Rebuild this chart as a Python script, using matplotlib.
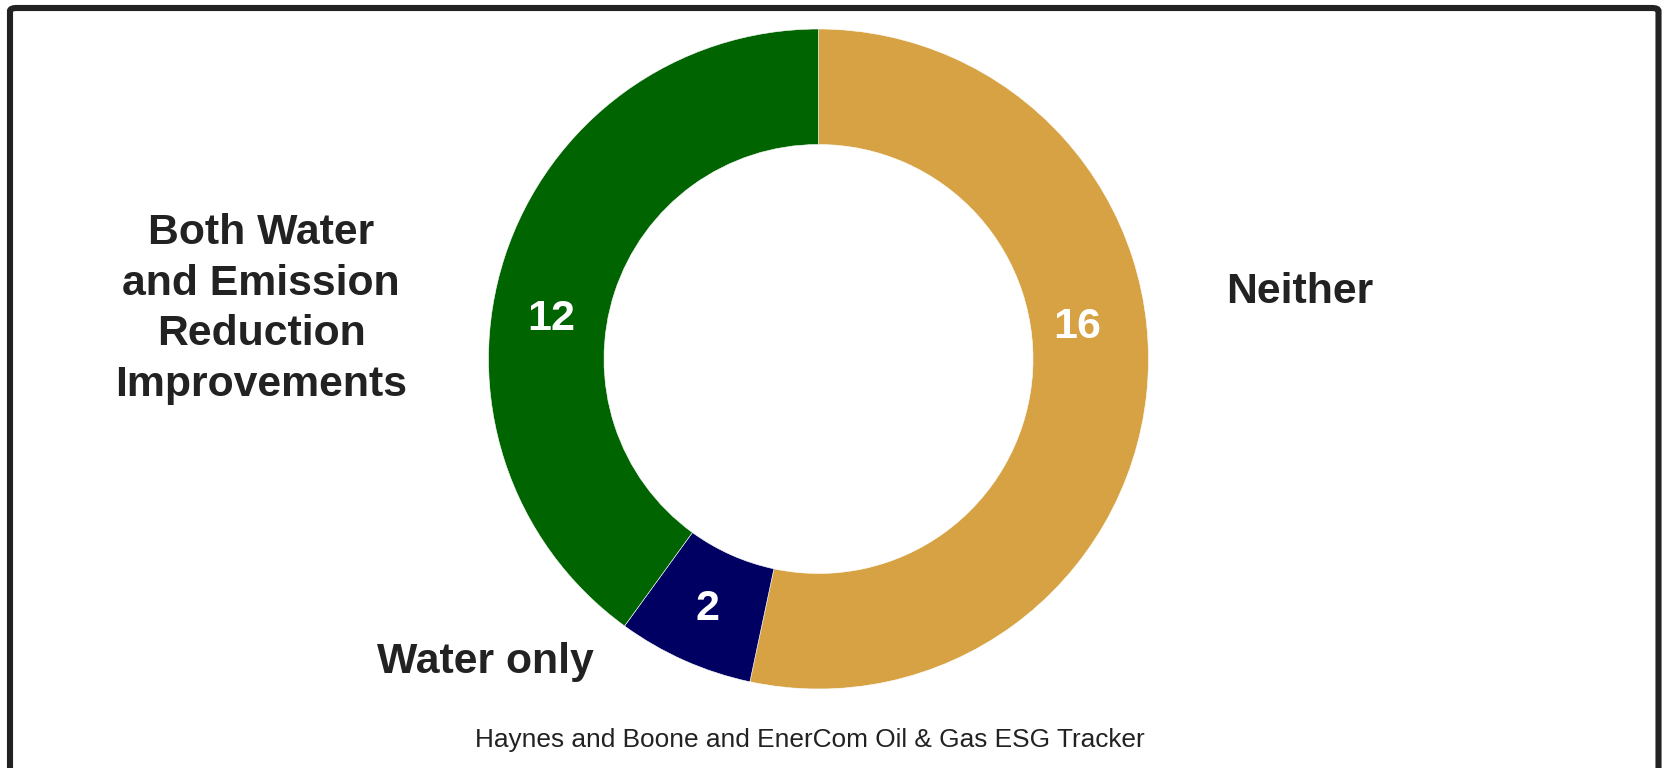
import numpy as np
import matplotlib
matplotlib.use("Agg")
import matplotlib.pyplot as plt
from matplotlib.patches import FancyBboxPatch

# Survey results: companies reporting water / emission reduction improvements
categories = ["Neither", "Water only", "Both Water\nand Emission\nReduction\nImprovements"]
counts = [16, 2, 12]
colors = ["#D6A244", "#000062", "#006400"]
source = "Haynes and Boone and EnerCom Oil & Gas ESG Tracker"

plt.rcParams["font.family"] = ["Liberation Sans", "DejaVu Sans"]

W, H = 1671, 768
fig = plt.figure(figsize=(W / 100, H / 100), dpi=100)
fig.patch.set_facecolor("white")

# Frame around the panel (open at the bottom edge of the image)
frame = FancyBboxPatch((10 / W, -0.05), (W - 10 - 12.5) / W, (H - 8) / H + 0.05,
                       boxstyle="round,pad=0,rounding_size=0.004",
                       transform=fig.transFigure, fill=False,
                       edgecolor="#222222", linewidth=4.4, zorder=0)
fig.add_artist(frame)

# Donut centre (818.5, 359) px with radius 330 px
cx, cy, r = 818.5, 359.0, 330.0
ax = fig.add_axes([(cx - r) / W, (H - cy - r) / H, 2 * r / W, 2 * r / H])
wedges, _ = ax.pie(counts, colors=colors, startangle=90, counterclock=False,
                   radius=1.0, wedgeprops=dict(width=0.35, edgecolor="white", linewidth=0.4))
ax.set_xlim(-1, 1)
ax.set_ylim(-1, 1)
ax.set_aspect("equal")
ax.axis("off")

# Value labels inside the ring
label_angles = [7.1, -113.9, 171.6]
label_radii = [0.79, 0.83, 0.82]
for val, ang, rad in zip(counts, label_angles, label_radii):
    a = np.deg2rad(ang)
    ax.text(rad * np.cos(a), rad * np.sin(a), str(val), ha="center", va="center",
            fontsize=31, fontweight="bold", color="white")

# Category labels around the ring
cat_pos = [(1300, 292), (485, 662), (261, 309)]
for name, (x, y) in zip(categories, cat_pos):
    fig.text(x / W, 1 - y / H, name, ha="center", va="center", fontsize=30.8,
             fontweight="bold", color="#222222", linespacing=1.34)

fig.text(810 / W, 1 - 740 / H, source, ha="center", va="center", fontsize=18.9,
         color="#222222")

fig.savefig("out.png", dpi=100, facecolor="white")
